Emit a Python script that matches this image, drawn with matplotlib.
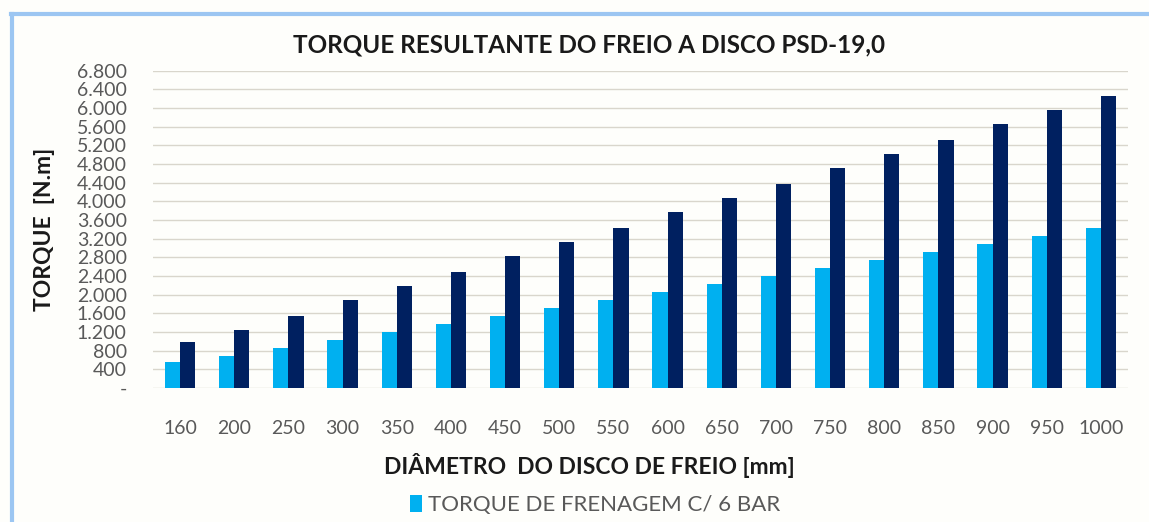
#!/usr/bin/env python3
"""Torque resultante do freio a disco PSD-19,0 - bar chart."""

import numpy as np
import matplotlib
matplotlib.use('Agg')
import matplotlib.pyplot as plt
from matplotlib.ticker import FuncFormatter, MultipleLocator
from matplotlib.lines import Line2D
from matplotlib.patches import Patch

# =============================================================================
# Data
# =============================================================================
diametros = ['160', '200', '250', '300', '350', '400', '450', '500', '550',
             '600', '650', '700', '750', '800', '850', '900', '950', '1000']

torque_6bar = [563, 685, 863, 1028, 1199, 1370, 1549, 1720, 1885,
               2056, 2227, 2398, 2570, 2741, 2912, 3084, 3255, 3427]

torque_alto = [985, 1242, 1542, 1885, 2185, 2492, 2827, 3127, 3427,
               3770, 4070, 4370, 4713, 5013, 5313, 5656, 5956, 6256]

COR_CLARO = '#00B0F0'
COR_ESCURO = '#002060'
COR_GRADE = '#d9d6cc'
COR_TEXTO = '#595959'
COR_BORDA = '#9cc6f2'

plt.rcParams['font.family'] = ['Lato', 'DejaVu Sans']

# =============================================================================
# Figure
# =============================================================================
fig = plt.figure(figsize=(11.49, 5.22), dpi=100)
fig.patch.set_facecolor('#fefefb')

ax = fig.add_axes([0.1332, 0.2567, 0.9817 - 0.1332, 0.8646 - 0.2567])
ax.set_facecolor('none')

x = np.arange(len(diametros))
w = 0.28
ax.bar(x - w / 2, torque_6bar, width=w, color=COR_CLARO, zorder=3)
ax.bar(x + w / 2, torque_alto, width=w, color=COR_ESCURO, zorder=3)

ax.set_xlim(-0.5, len(diametros) - 0.5)
ax.set_ylim(0, 6800)
ax.yaxis.set_major_locator(MultipleLocator(400))


def fmt_milhar(v, pos):
    if abs(v) < 1e-6:
        return '-'
    return f'{v:,.0f}'.replace(',', '.')


ax.yaxis.set_major_formatter(FuncFormatter(fmt_milhar))
ax.set_xticks(x)
ax.set_xticklabels(diametros)

ax.grid(axis='y', color=COR_GRADE, linewidth=1.0, zorder=0)
for s in ax.spines.values():
    s.set_visible(False)
ax.tick_params(axis='both', length=0, labelsize=14, colors=COR_TEXTO)
ax.tick_params(axis='x', pad=23)
ax.tick_params(axis='y', pad=19)

# texts
fig.text(0.513, 0.914, 'TORQUE RESULTANTE DO FREIO A DISCO PSD-19,0',
         ha='center', va='center', fontsize=17.5, fontweight='bold', color='#1a1a1a')
fig.text(0.039, 0.56, 'TORQUE  [N.m]', rotation=90, ha='center', va='center',
         fontsize=16.5, fontweight='bold', color='#1a1a1a')
fig.text(0.513, 0.109, 'DIÂMETRO  DO DISCO DE FREIO [mm]', ha='center',
         va='center', fontsize=16.5, fontweight='bold', color='#1a1a1a')

handles = [Patch(facecolor=COR_CLARO, edgecolor='none')]
fig.legend(handles, ['TORQUE DE FRENAGEM C/ 6 BAR'], loc='center',
           bbox_to_anchor=(0.518, 0.033), frameon=False, fontsize=16,
           handlelength=0.55, handleheight=0.8, handletextpad=0.25,
           labelcolor=COR_TEXTO)

# chart border (top and left visible)
fig.add_artist(Line2D([0.0096, 1.0], [0.973, 0.973], color=COR_BORDA,
                      linewidth=3, transform=fig.transFigure))
fig.add_artist(Line2D([0.0104, 0.0104], [0.0, 0.973], color=COR_BORDA,
                      linewidth=3, transform=fig.transFigure))

fig.savefig('out.png', dpi=100, facecolor=fig.get_facecolor())
